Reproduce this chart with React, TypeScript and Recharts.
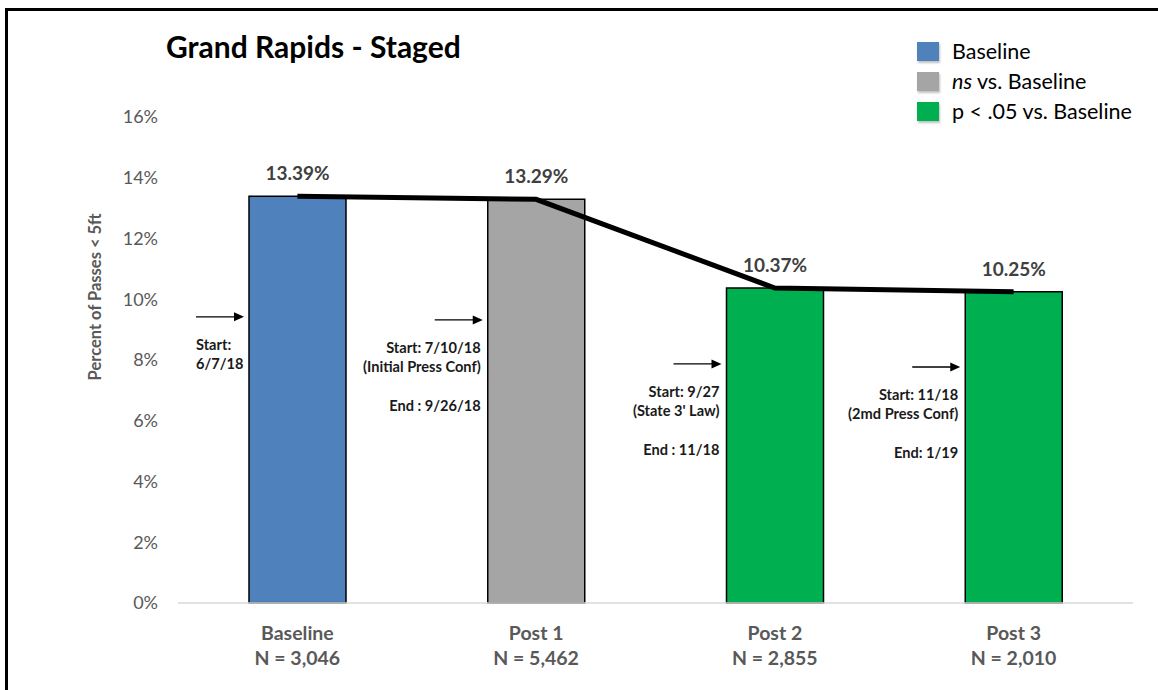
import React from 'react';
import { ComposedChart, Bar, Line, XAxis, YAxis, LabelList, Label, Rectangle } from 'recharts';

const categories = ['Baseline', 'Post 1', 'Post 2', 'Post 3'];
const sampleSizes = ['N = 3,046', 'N = 5,462', 'N = 2,855', 'N = 2,010'];
const values = [13.39, 13.29, 10.37, 10.25];
const barColors = ['#4f81bd', '#a5a5a5', '#00b050', '#00b050'];
const yTicks = [0, 2, 4, 6, 8, 10, 12, 14, 16];
const annotationArrowLevel = [9.42, 9.32, 7.87, 7.77];
const annotationStart = ['Start:', 'Start: 7/10/18', 'Start: 9/27', 'Start: 11/18'];
const annotationDetail = ['6/7/18', '(Initial Press Conf)', "(State 3' Law)", '(2md Press Conf)'];
const annotationEnd = ['', 'End : 9/26/18', 'End : 11/18', 'End: 1/19'];
const legendLabels = ['Baseline', 'ns vs. Baseline', 'p < .05 vs. Baseline'];
const legendColors = ['#4f81bd', '#a5a5a5', '#00b050'];

const data = categories.map((c, i) => ({
  category: c,
  value: values[i],
  color: barColors[i],
}));

const FONT = 'Lato, "Open Sans", sans-serif';

const BarWithNote = (props: any) => {
  const { x, y, width, height, payload } = props;
  const i = categories.indexOf(payload.category);
  const bottom = y + height;
  const ppu = height / values[i];
  const ay = bottom - annotationArrowLevel[i] * ppu;
  const leftAligned = i === 0;
  const ax1 = x - 53;
  const ax2 = x - 5;
  const tx = leftAligned ? x - 53 : x - 7;
  const anchor = leftAligned ? 'start' : 'end';
  const tStyle = { fontFamily: FONT, fontWeight: 700, fontSize: 14.6, fill: '#1a1a1a' } as any;
  return (
    <g>
      <Rectangle x={x} y={y} width={width} height={height} fill={payload.color} stroke="#000" strokeWidth={1.5} />
      <line x1={ax1} y1={ay} x2={ax2 - 9} y2={ay} stroke="#000" strokeWidth={1.3} />
      <polygon points={`${ax2},${ay} ${ax2 - 10},${ay - 4.5} ${ax2 - 10},${ay + 4.5}`} fill="#000" />
      <text x={tx} y={ay + 28} textAnchor={anchor} dominantBaseline="central" style={tStyle}>{annotationStart[i]}</text>
      <text x={tx} y={ay + 47} textAnchor={anchor} dominantBaseline="central" style={tStyle}>{annotationDetail[i]}</text>
      {annotationEnd[i] ? (
        <text x={tx} y={ay + 86} textAnchor={anchor} dominantBaseline="central" style={tStyle}>{annotationEnd[i]}</text>
      ) : null}
    </g>
  );
};

const CategoryTick = (props: any) => {
  const { x, y, payload } = props;
  const i = categories.indexOf(payload.value);
  const st = { fontFamily: FONT, fontWeight: 700, fontSize: 19.5, fill: '#595959' } as any;
  return (
    <g>
      <text x={x} y={y + 21} textAnchor="middle" dominantBaseline="central" style={st}>{payload.value}</text>
      <text x={x} y={y + 46} textAnchor="middle" dominantBaseline="central" style={st}>{sampleSizes[i]}</text>
    </g>
  );
};

const LegendBox = () => (
  <div style={{ position: 'absolute', left: 917, top: 36, fontFamily: FONT, fontSize: 21.5, color: '#000', whiteSpace: 'nowrap' }}>
    {legendLabels.map((l, i) => (
      <div key={l} style={{ display: 'flex', alignItems: 'center', height: 30 }}>
        <div style={{ width: 22, height: 19, background: legendColors[i], boxShadow: '1px 2px 2px rgba(0,0,0,0.25)', marginRight: 13 }} />
        <span>
          {i === 1 ? (<><i>ns</i>{l.slice(2)}</>) : l}
        </span>
      </div>
    ))}
  </div>
);

export default function App() {
  return (
    <div style={{ position: 'absolute', left: 0, top: 0, width: 1158, height: 690, overflow: 'hidden', background: '#fff' }}>
      <div style={{ position: 'absolute', left: 5, top: 8, width: 1200, height: 720, border: '3px solid #000' }} />
      <div style={{ position: 'absolute', left: 166, top: 28, fontFamily: FONT, fontWeight: 700, fontSize: 30, color: '#000', whiteSpace: 'nowrap' }}>
        Grand Rapids - Staged
      </div>
      <LegendBox />
      <div style={{ position: 'absolute', left: 0, top: 0 }}>
        <ComposedChart width={1158} height={690} data={data} margin={{ top: 117, right: 25, bottom: 0, left: 108 }}>
          <XAxis dataKey="category" axisLine={{ stroke: '#d9d9d9', strokeWidth: 1.5 }} tickLine={false} tick={<CategoryTick />} interval={0} height={87} />
          <YAxis
            domain={[0, 16]}
            ticks={yTicks}
            tickFormatter={(v: number) => `${v}%`}
            axisLine={false}
            tickLine={false}
            tickSize={0}
            tickMargin={20}
            width={70}
            tick={{ fontFamily: FONT, fontSize: 18, fill: '#595959' }}
          >
            <Label
              content={(p: any) => {
                const vb = p.viewBox || { x: 108, y: 117, width: 70, height: 486 };
                const cx = vb.x - 13;
                const cy = vb.y + vb.height * 0.37;
                return (
                  <text x={cx} y={cy} transform={`rotate(-90 ${cx} ${cy})`} textAnchor="middle" dominantBaseline="central"
                    style={{ fontFamily: FONT, fontWeight: 700, fontSize: 16.5, fill: '#595959' }}>
                    Percent of Passes &lt; 5ft
                  </text>
                );
              }}
            />
          </YAxis>
          <Bar dataKey="value" barSize={97} shape={<BarWithNote />} isAnimationActive={false}>
            <LabelList
              dataKey="value"
              position="top"
              offset={16}
              formatter={(v: any) => `${Number(v).toFixed(2)}%`}
              style={{ fontFamily: FONT, fontWeight: 700, fontSize: 19, fill: '#404040' }}
            />
          </Bar>
          <Line dataKey="value" stroke="#000" strokeWidth={5} dot={false} activeDot={false} type="linear" isAnimationActive={false} legendType="none" />
        </ComposedChart>
      </div>
    </div>
  );
}
